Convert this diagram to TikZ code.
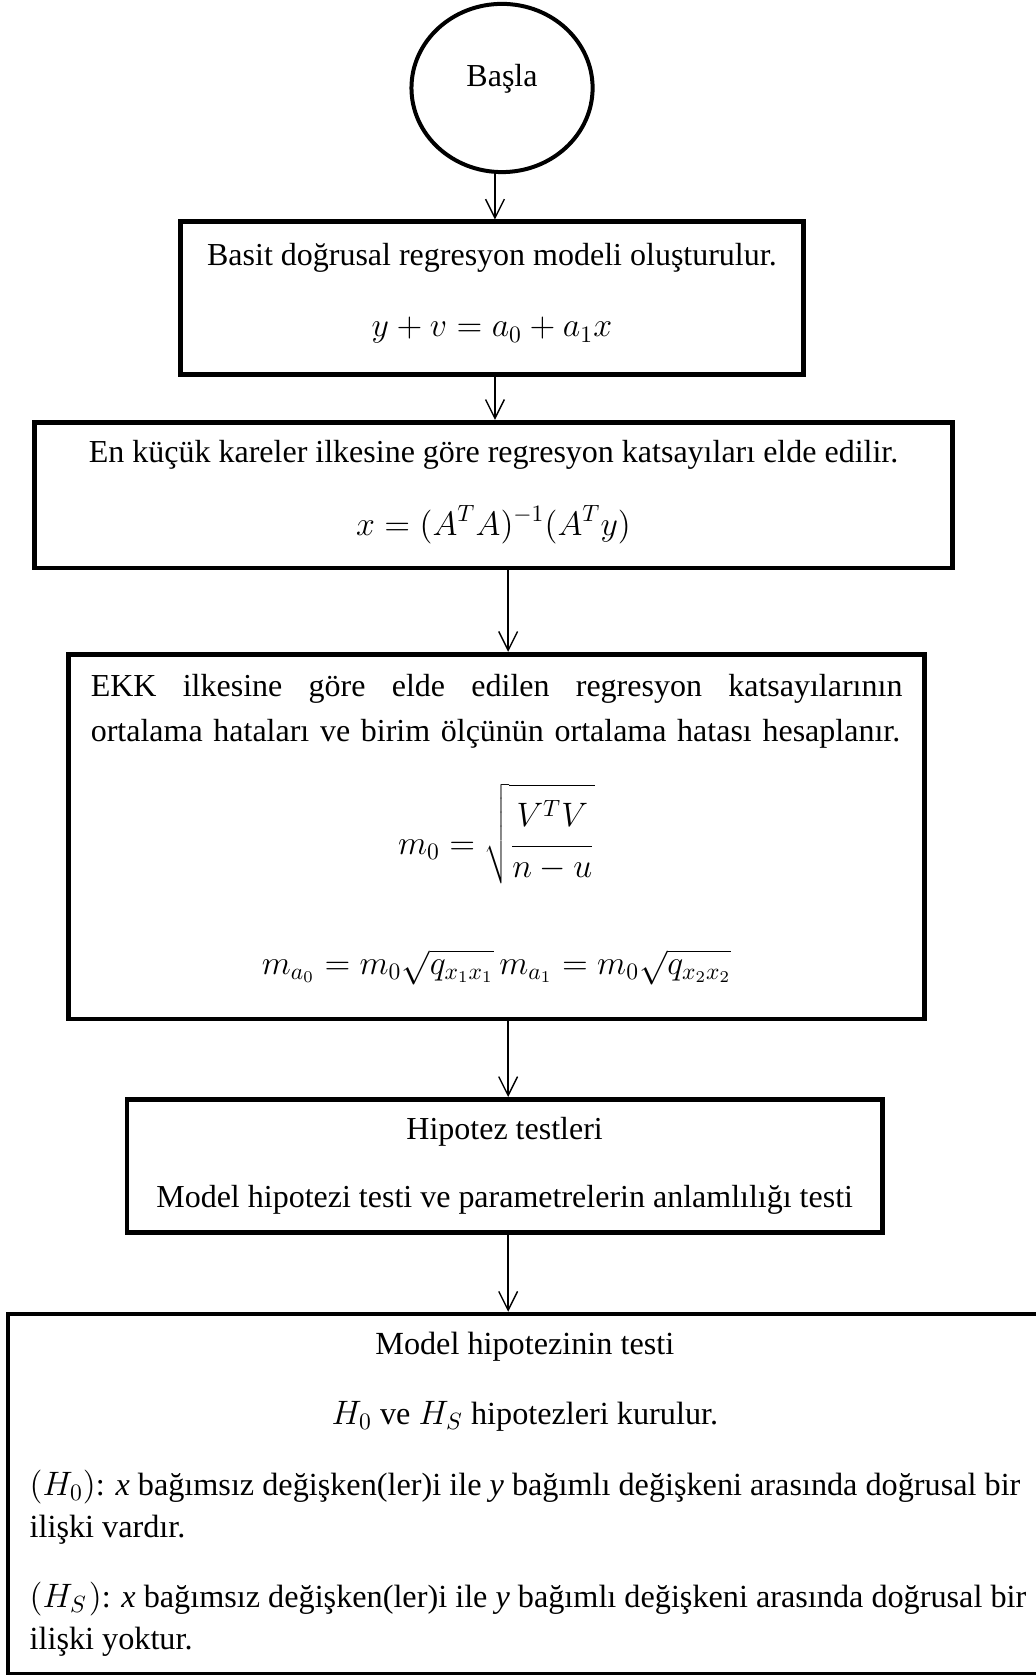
\documentclass[tikz,border=0pt]{standalone}
\usepackage{fontspec}
\setmainfont{Liberation Serif}
\usetikzlibrary{arrows.meta, positioning, shapes.geometric}

\newcommand{\fmla}[1]{{\fontsize{14.3}{17}\selectfont$\displaystyle #1$}}
\newcommand{\hypline}[1]{\makebox[421pt][l]{#1}}
\newcommand{\hyphead}[1]{\makebox[421pt]{#1}}

\begin{document}
\begin{tikzpicture}[
    font=\fontsize{13.6}{17.7}\selectfont,
    stepbox/.style={draw, line width=2pt, inner sep=0pt, align=center},
    flow/.style={-{Straight Barb[length=8pt, width=8pt]}, line width=0.6pt},
]
\useasboundingbox (0,0) rectangle (440pt,-712pt);

% Start, then the steps top to bottom
\node[ellipse, draw, line width=1.7pt, minimum width=77pt, minimum height=71.5pt, inner sep=0pt] (start) at (213.4pt,-37.4pt) {Başla\rule[-11pt]{0pt}{0pt}};
\node[stepbox, minimum width=265pt, minimum height=65pt, below=19.3pt of start, xshift=-4.3pt] (model)
    {Basit doğrusal regresyon modeli oluşturulur.\\[12.7pt] \fmla{y+v=a_0+a_1x}\rule[-7pt]{0pt}{0pt}};
\node[stepbox, minimum width=390pt, minimum height=62pt, below=18.2pt of model, xshift=0.7pt] (lsq)
    {En küçük kareler ilkesine göre regresyon katsayıları elde edilir.\\[13.3pt] \fmla{x=(A^TA)^{-1}(A^Ty)}\rule[-6.5pt]{0pt}{0pt}};
\node[stepbox, minimum width=364pt, minimum height=155pt, text width=345pt, align=left, below=34.6pt of lsq, xshift=1.3pt] (err)
    {\hbox to \hsize{EKK \hfill ilkesine \hfill göre \hfill elde \hfill edilen \hfill regresyon \hfill katsayılarının}\\[1.4pt]
     ortalama hataları ve birim ölçünün ortalama hatası hesaplanır.\\[13.9pt]
     \makebox[\hsize]{\fmla{m_0=\sqrt{\frac{\rule{0pt}{15pt}V^TV\rule[-7pt]{0pt}{0pt}}{\rule{0pt}{11pt}n-u\rule[-2pt]{0pt}{0pt}}}}}\\[27.2pt]
     \makebox[\hsize]{\fmla{m_{a_0}=m_0\sqrt{q_{x_1x_1}}\,m_{a_1}=m_0\sqrt{q_{x_2x_2}}}}\rule[-10.4pt]{0pt}{0pt}};
\node[stepbox, minimum width=321pt, minimum height=56.5pt, below=32.2pt of err, xshift=3.4pt] (tests)
    {Hipotez testleri\\[11.5pt] Model hipotezi testi ve parametrelerin anlamlılığı testi};
\node[stepbox, minimum width=439.4pt, minimum height=153pt, font=\fontsize{13.7}{17.7}\selectfont, below=32.8pt of tests, xshift=8.6pt] (hyp)
    {\hyphead{Model hipotezinin testi}\\[12.3pt]
     \hyphead{$H_0$ ve $H_S$ hipotezleri kurulur.}\\[12.3pt]
     \hypline{$(H_0)$: \textit{x} bağımsız değişken(ler)i ile \textit{y} bağımlı değişkeni arasında doğrusal bir}\\
     \hypline{ilişki vardır.}\\[12.3pt]
     \hypline{$(H_S\mkern1mu)$: \textit{x} bağımsız değişken(ler)i ile \textit{y} bağımlı değişkeni arasında doğrusal bir}\\
     \hypline{ilişki yoktur.}};

% Connectors
\coordinate (spineup) at (210.4pt,0);
\coordinate (spine)   at (216pt,0);
\draw[flow] (start.south -| spineup) -- (model.north -| spineup);
\draw[flow] (model.south -| spineup) -- (lsq.north -| spineup);
\draw[flow] (lsq.south -| spine)     -- (err.north -| spine);
\draw[flow] (err.south -| spine)     -- (tests.north -| spine);
\draw[flow] (tests.south -| spine)   -- (hyp.north -| spine);

\end{tikzpicture}
\end{document}
